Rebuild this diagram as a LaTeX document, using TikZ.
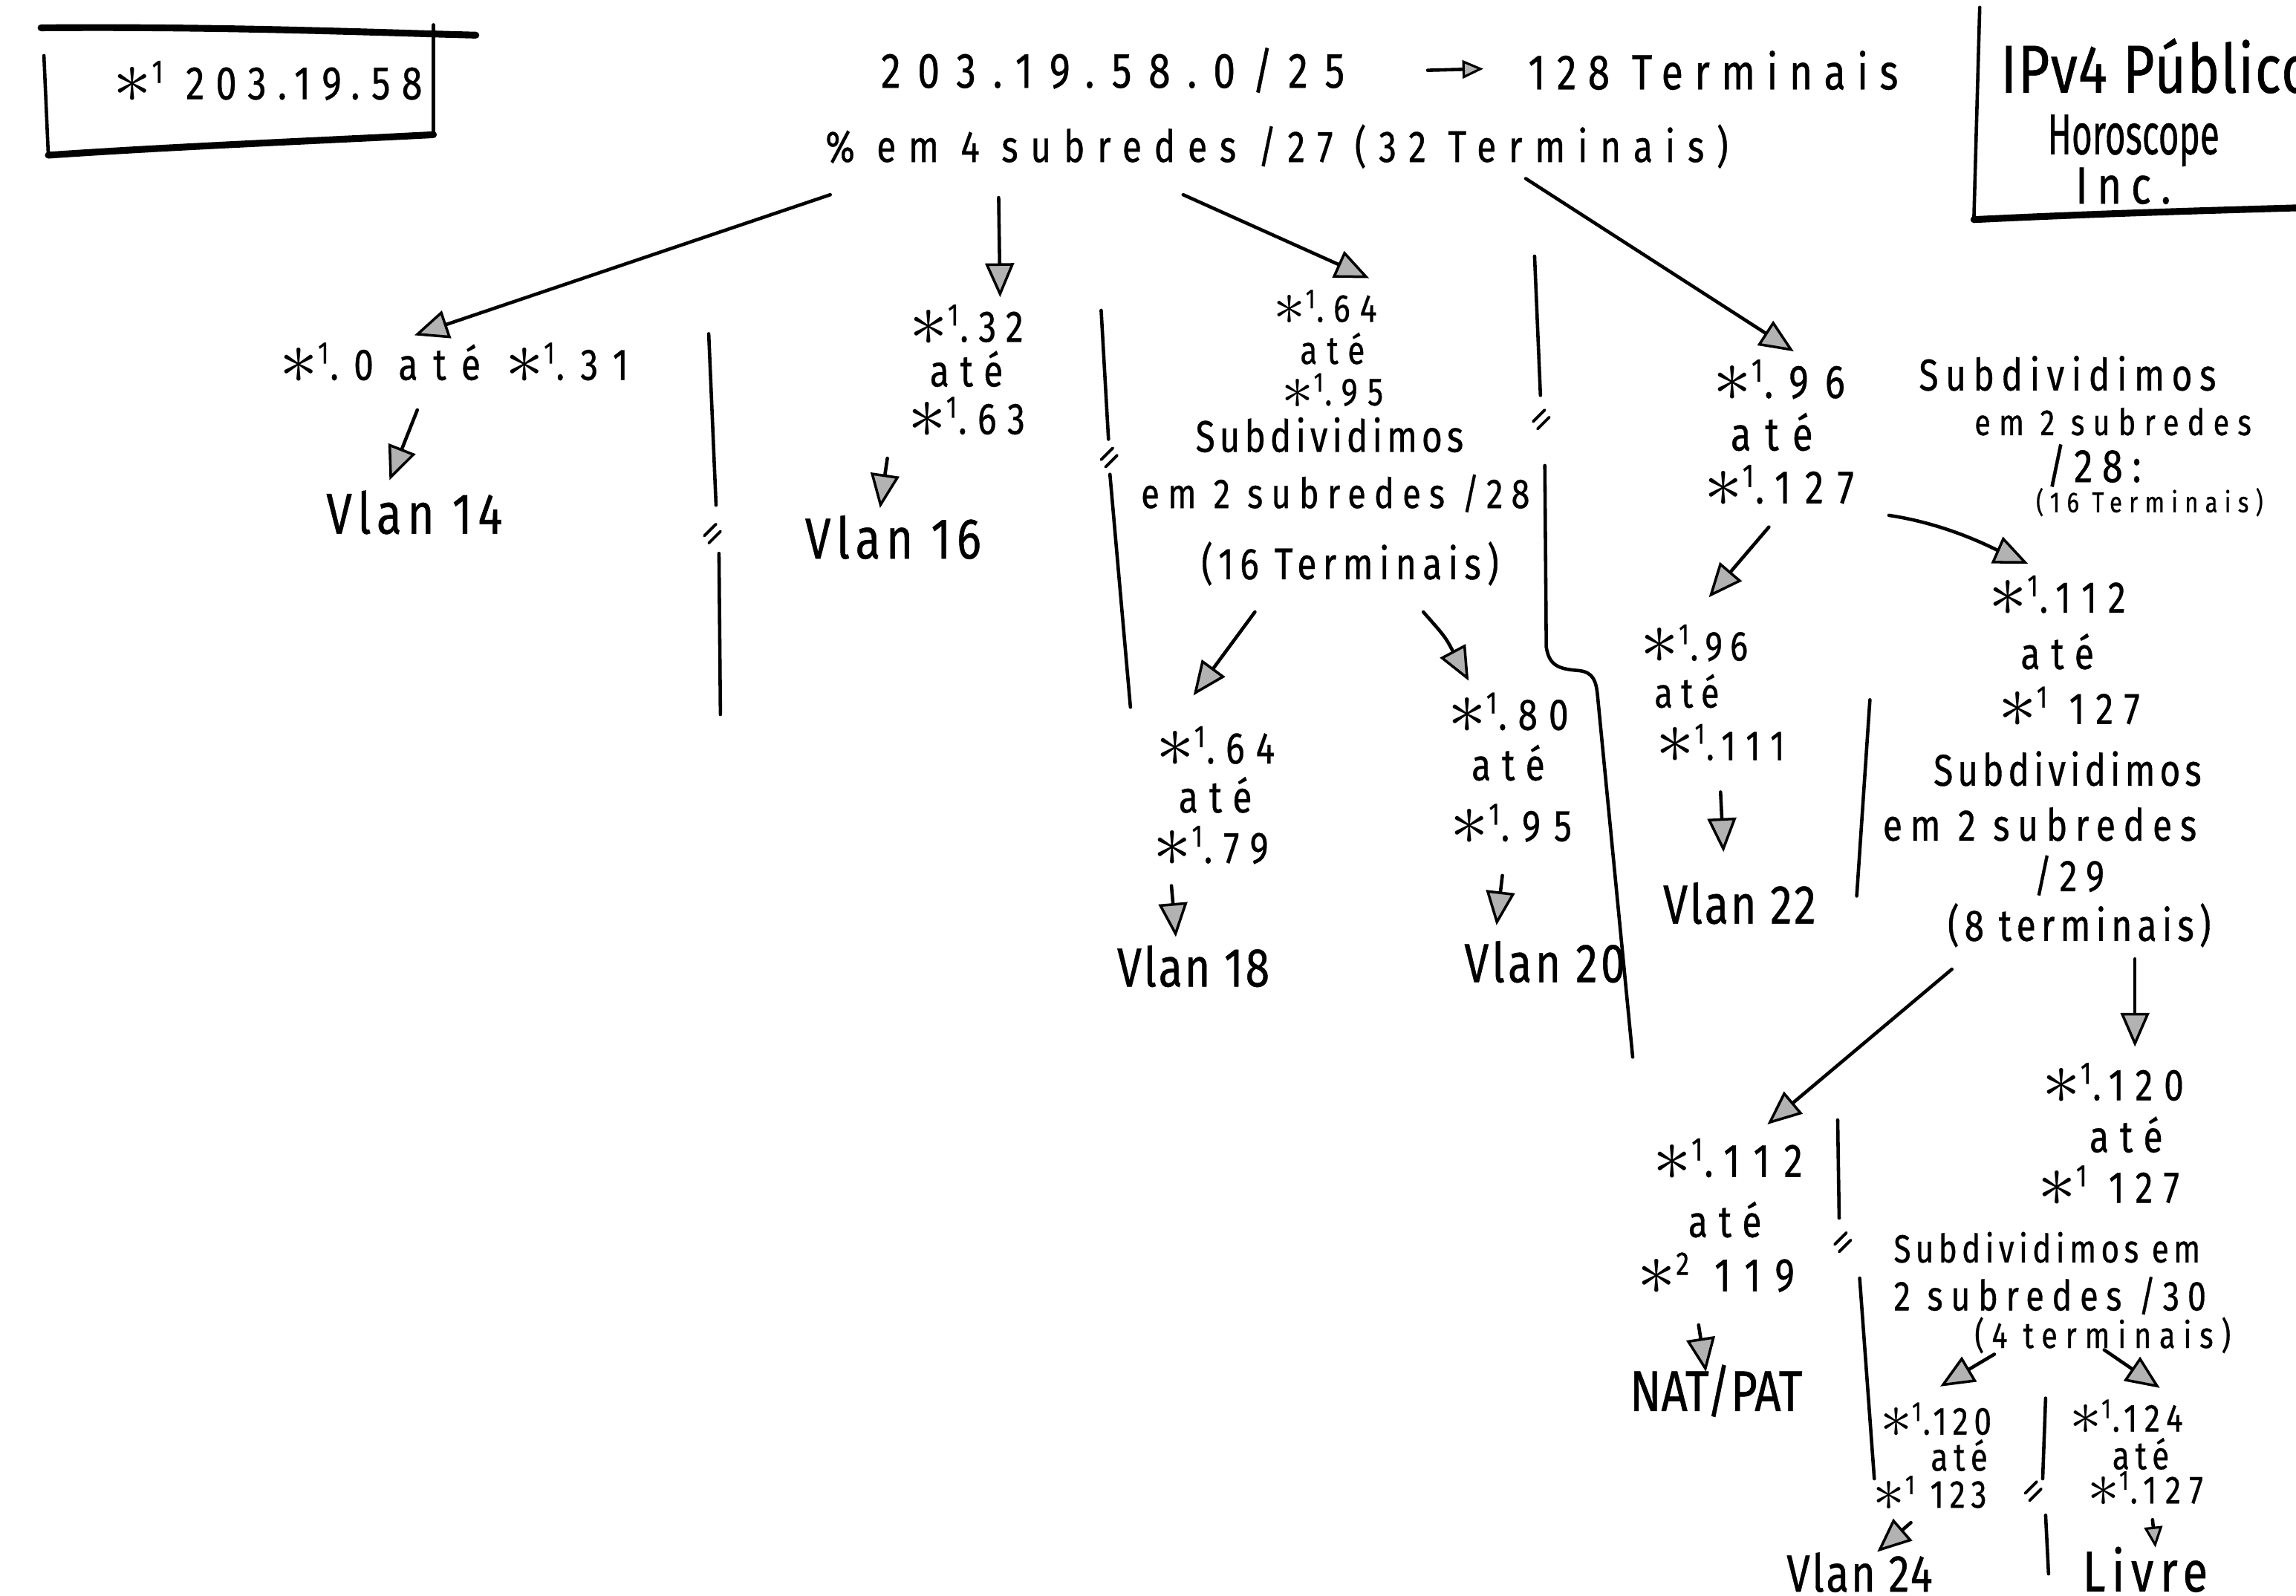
\documentclass[tikz,border=0pt]{standalone}
\usepackage{fontspec}
\usetikzlibrary{arrows.meta,calc}
\newfontfamily\hand{Fira Sans}[FakeStretch=0.8, FakeBold=0.6]
% host-part prefix marks: *1 = 203.19.58 , *2 = same prefix
\newcommand\ipa{\raisebox{-0.08em}{\scalebox{1.7}{$\ast$}}\textsuperscript{1}}
\newcommand\ipb{\raisebox{-0.08em}{\scalebox{1.7}{$\ast$}}\textsuperscript{2}}
\begin{document}
\begin{tikzpicture}[x=0.0197cm,y=-0.0197cm,
  hw/.style 2 args={font=\hand\addfontfeatures{LetterSpace=#2}\fontsize{#1}{#1}\selectfont, inner sep=0pt, anchor=center},
  pen/.style={line width=1.3pt, line cap=round, line join=round},
  heavy/.style={line width=2.6pt, line cap=round},
  arr/.style={pen, -{Triangle[length=13pt,width=11pt,fill=gray!60,line width=1pt]}},
  small arr/.style={pen, -{Triangle[length=8pt,width=7pt,fill=gray!60,line width=0.9pt]}},
  brkm/.pic={\draw[pen,line width=1.1pt] (-5,4) -- (3,-4); \draw[pen,line width=1.1pt] (-2,9) -- (6,1);}]
\useasboundingbox (0,0) rectangle (1568,1090);
\fill[white] (0,0) rectangle (1568,1090);

% ---- prefix box (top left)
\draw[heavy] (28,19) .. controls (150,18) and (250,22) .. (325,24);
\draw[pen] (296,17) -- (296,92);
\draw[pen] (30,38) -- (33,106);
\draw[heavy] (33,106) .. controls (120,100) and (220,96) .. (296,92);
\node[hw={18}{24}] (pfx) at (183,56) {\ipa{} 203.19.58};

% ---- company box (top right)
\draw[pen] (1352,5) -- (1348,150);
\draw[heavy] (1348,150) .. controls (1430,146) and (1500,144) .. (1568,142);
\node[hw={26}{2}] (ipv4) at (1473,45) {IPv4 Público};
\node[hw={22}{0}] (horo) at (1457,96) {\scalebox{0.77}[1]{Horoscope}};
\node[hw={20}{18}] (inc) at (1450,127) {Inc.};

% ---- network and first split
\node[hw={19}{34}] (net) at (760,48) {203.19.58.0/25};
\node[hw={19}{23}] (n128) at (1170,48) {128 Terminais};
\draw[small arr] ($(n128)+(-195,0)$) -- ($(n128)+(-157,-1)$);
\node[hw={17}{28}] (split) at (872,100) {\% em 4 subredes /27 (32 Terminais)};

% ---- first level /27
\node[hw={17}{35}] (s0) at (310,248) {\ipa.0 até \ipa.31};
\node[hw={17}{22}] (s32a) at (660,222) {\ipa.32};
\node[hw={17}{25}] (s32b) at (660,252) {até};
\node[hw={17}{25}] (s32c) at (660,285) {\ipa.63};
\node[hw={15}{25}] (s64a) at (905,210) {\ipa.64};
\node[hw={15}{25}] (s64b) at (910,238) {até};
\node[hw={15}{25}] (s64c) at (910,267) {\ipa.95};
\node[hw={17}{10}] (s64d) at (908,297) {Subdividimos};
\node[hw={16}{20}] (s64e) at (912,337) {em 2 subredes /28};
\node[hw={17}{14}] (s64f) at (922,385) {(16 Terminais)};
\node[hw={18}{35}] (s96a) at (1215,260) {\ipa.96};
\node[hw={18}{30}] (s96b) at (1210,295) {até};
\node[hw={18}{30}] (s96c) at (1215,332) {\ipa.127};
\node[hw={17}{16}] (r28a) at (1412,255) {Subdividimos};
\node[hw={14}{23}] (r28b) at (1443,288) {em 2 subredes};
\node[hw={18}{20}] (r28c) at (1430,318) {/28:};
\node[hw={11}{24}] (r28d) at (1468,343) {(16 Terminais)};

\draw[arr] (567,133) coordinate (a1) -- ($(s0)+(-27,-19)$);
\draw[arr] (682,135) coordinate (a2) -- ($(s32a)+(23,-19)$);
\draw[arr] (808,133) coordinate (a3) -- ($(s64a)+(30,-20)$);
\draw[arr] (1042,122) coordinate (a4) -- ($(s96a)+(10,-20)$);

\node[hw={22}{10}] (v14) at (283,350) {Vlan 14};
\node[hw={22}{10}] (v16) at (610,367) {Vlan 16};
\draw[arr] ($(s0)+(-25,32)$) -- ($(v14)+(-17,-22)$);
\draw[arr] ($(s32c)+(-54,28)$) -- ($(v16)+(-9,-20)$);

% ---- split of .64/27 into /28
\node[hw={17}{25}] (t64a) at (830,510) {\ipa.64};
\node[hw={17}{25}] (t64b) at (830,543) {até};
\node[hw={17}{25}] (t64c) at (827,578) {\ipa.79};
\node[hw={17}{25}] (t80a) at (1030,487) {\ipa.80};
\node[hw={17}{25}] (t80b) at (1030,521) {até};
\node[hw={17}{30}] (t80c) at (1032,563) {\ipa.95};
\draw[arr] ($(s64f)+(-65,33)$) -- ($(t64a)+(-15,-35)$);
\draw[arr] ($(s64f)+(50,33)$) .. controls ($(s64f)+(65,50)$) .. ($(t80a)+(-27,-22)$);
\node[hw={21}{4}] (v18) at (815,660) {Vlan 18};
\node[hw={21}{6}] (v20) at (1055,657) {Vlan 20};
\draw[arr] ($(t64c)+(-27,27)$) -- ($(v18)+(-12,-20)$);
\draw[arr] ($(t80c)+(-6,35)$) -- ($(v20)+(-33,-25)$);

% ---- split of .96/27 into /28
\node[hw={16}{18}] (t96a) at (1157,440) {\ipa.96};
\node[hw={16}{20}] (t96b) at (1152,472) {até};
\node[hw={16}{25}] (t96c) at (1175,508) {\ipa.111};
\node[hw={17}{25}] (t112a) at (1405,407) {\ipa.112};
\node[hw={17}{25}] (t112b) at (1405,445) {até};
\node[hw={17}{25}] (t112c) at (1413,483) {\ipa{} 127};
\node[hw={17}{10}] (t112d) at (1412,525) {Subdividimos};
\node[hw={17}{18}] (t112e) at (1393,563) {em 2 subredes};
\node[hw={17}{20}] (t112f) at (1413,598) {/29};
\node[hw={17}{12}] (t112g) at (1420,632) {(8 terminais)};
\draw[arr] ($(s96c)+(-7,28)$) -- ($(t96a)+(10,-32)$);
\draw[arr] ($(s96c)+(75,20)$) .. controls ($(s96c)+(115,26)$) and ($(t112a)+(-45,-33)$) .. ($(t112a)+(-20,-22)$);
\node[hw={21}{4}] (v22) at (1188,617) {Vlan 22};
\draw[arr] ($(t96c)+(0,33)$) -- ($(v22)+(-11,-35)$);

% ---- split of .112/28 into /29
\node[hw={18}{30}] (u112a) at (1180,792) {\ipa.112};
\node[hw={17}{25}] (u112b) at (1178,833) {até};
\node[hw={18}{30}] (u112c) at (1172,870) {\ipb{} 119};
\node[hw={22}{0}] (nat) at (1172,950) {NAT/PAT};
\draw[arr] ($(t112g)+(-87,30)$) -- ($(u112a)+(27,-24)$);
\draw[arr] ($(u112c)+(-12,35)$) -- ($(nat)+(-7,-13)$);

\node[hw={17}{25}] (u120a) at (1443,740) {\ipa.120};
\node[hw={17}{25}] (u120b) at (1452,775) {até};
\node[hw={17}{25}] (u120c) at (1440,810) {\ipa{} 127};
\node[hw={15}{12}] (u120d) at (1398,852) {Subdividimos em};
\node[hw={16}{19}] (u120e) at (1400,885) {2 subredes /30};
\node[hw={14}{22}] (u120f) at (1436,912) {(4 terminais)};
\draw[arr] ($(t112g)+(38,23)$) -- ($(u120a)+(15,-25)$);

% ---- split of .120/29 into /30
\node[hw={15}{15}] (w120a) at (1322,970) {\ipa.120};
\node[hw={15}{15}] (w120b) at (1338,994) {até};
\node[hw={15}{15}] (w120c) at (1318,1020) {\ipa{} 123};
\node[hw={15}{18}] (w124a) at (1452,968) {\ipa.124};
\node[hw={15}{15}] (w124b) at (1462,993) {até};
\node[hw={15}{22}] (w124c) at (1465,1017) {\ipa.127};
\draw[arr] ($(u120f)+(-74,13)$) -- ($(w120a)+(3,-23)$);
\draw[arr] ($(u120f)+(1,10)$) -- ($(w124a)+(23,-20)$);
\node[hw={20}{4}] (v24) at (1270,1074) {Vlan 24};
\node[hw={22}{11}] (livre) at (1465,1072) {Livre};
\draw[arr] ($(w120c)+(-13,20)$) -- ($(v24)+(12,-14)$);
\draw[small arr] ($(w124c)+(5,21)$) -- ($(livre)+(7,-15)$);

% ---- dividers between branches
\draw[pen] (484,228) -- (489,345);  \pic at (486,362) {brkm};  \draw[pen] (491,378) -- (492,488);
\draw[pen] (752,212) -- (757,300);  \pic at (757,310) {brkm};  \draw[pen] (758,324) -- (772,483);
\draw[pen] (1048,175) -- (1052,270); \pic at (1052,284) {brkm};
\draw[pen] (1055,318) -- (1056,442) .. controls (1058,455) and (1065,457) .. (1078,458)
           .. controls (1088,459) and (1090,465) .. (1091,475) -- (1115,722);
\draw[pen] (1277,478) -- (1268,612);
\draw[pen] (1255,765) -- (1256,832); \pic at (1258,846) {brkm}; \draw[pen] (1270,873) -- (1280,1010);
\draw[pen] (1397,955) -- (1395,1010); \pic at (1388,1016) {brkm}; \draw[pen] (1397,1035) -- (1399,1075);
\end{tikzpicture}
\end{document}
